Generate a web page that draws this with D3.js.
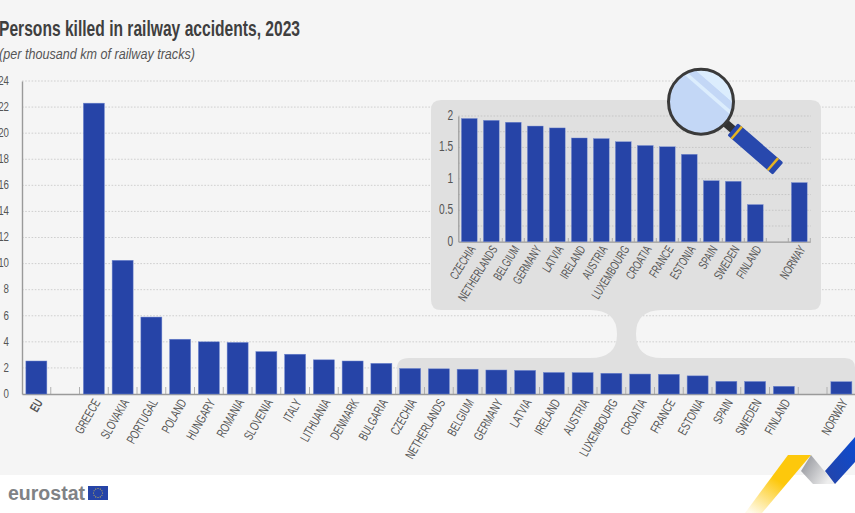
<!DOCTYPE html>
<html>
<head>
<meta charset="utf-8">
<script src="https://cdn.jsdelivr.net/npm/d3@7"></script>
<style>
html,body{margin:0;padding:0;background:#fff;overflow:hidden}
svg{display:block}
text{font-family:"Liberation Sans",sans-serif}
</style>
</head>
<body>
<svg id="c" width="855" height="513"></svg>
<script>
const titleText = "Persons killed in railway accidents, 2023";
const subtitleText = "(per thousand km of railway tracks)";
const categories = ["EU","gap1","GREECE","SLOVAKIA","PORTUGAL","POLAND","HUNGARY","ROMANIA","SLOVENIA","ITALY","LITHUANIA","DENMARK","BULGARIA","CZECHIA","NETHERLANDS","BELGIUM","GERMANY","LATVIA","IRELAND","AUSTRIA","LUXEMBOURG","CROATIA","FRANCE","ESTONIA","SPAIN","SWEDEN","FINLAND","gap2","NORWAY"];
const values = [2.53,null,22.3,10.25,5.9,4.2,4.0,3.95,3.25,3.05,2.62,2.53,2.35,1.96,1.93,1.90,1.84,1.81,1.65,1.64,1.59,1.53,1.51,1.39,0.97,0.96,0.59,null,0.94];
const mainTicks = [0,2,4,6,8,10,12,14,16,18,20,22,24];
const insetTicks = [0,0.5,1,1.5,2];
const insetGrid = [0.25,0.5,0.75,1,1.25,1.5,1.75,2];
const insetStart = "CZECHIA";

const BAR="#2644a7", EDGE="#6f86cf", INK="#555", AXIS="#9a9a9a", PANEL="#e0e0e0", BG="#f5f5f5";
const svg=d3.select("#c");
const defs=svg.append("defs");
const yg=defs.append("linearGradient").attr("id","yg").attr("x1",0.85).attr("y1",0).attr("x2",0.1).attr("y2",1);
yg.append("stop").attr("offset","45%").attr("stop-color","#fdc80c");
yg.append("stop").attr("offset","100%").attr("stop-color","#fdc80c").attr("stop-opacity",0.08);
const gg=defs.append("linearGradient").attr("id","gg").attr("x1",0).attr("y1",0).attr("x2",1).attr("y2",0.5);
gg.append("stop").attr("offset","0%").attr("stop-color","#8b8d94");
gg.append("stop").attr("offset","100%").attr("stop-color","#eeeeee");
const bg=defs.append("linearGradient").attr("id","bg").attr("x1",0).attr("y1",1).attr("x2",1).attr("y2",0);
bg.append("stop").attr("offset","0%").attr("stop-color","#2644a7");
bg.append("stop").attr("offset","100%").attr("stop-color","#0b4bd0");

svg.append("rect").attr("width",855).attr("height",513).attr("fill","#fff");
svg.append("rect").attr("width",855).attr("height",475).attr("fill",BG);

// titles (the reference uses a condensed face, so the installed sans is narrowed)
svg.append("text").attr("transform","translate(-1,36) scale(0.71,1)").attr("font-size",22).attr("font-weight",700).attr("fill","#3f3f3f").text(titleText);
svg.append("text").attr("transform","translate(-1,59) scale(0.84,1)").attr("font-size",15).attr("font-style","italic").attr("fill","#555").text(subtitleText);

// main scales
const x=d3.scaleBand().domain(categories).range([22,855.75]).paddingInner(0.27).paddingOuter(0.135);
const y=d3.scaleLinear().domain([0,24]).range([394,81]);

// main grid
svg.append("g").selectAll("line").data(mainTicks.filter(d=>d>0)).join("line")
  .attr("x1",22).attr("x2",855).attr("y1",d=>y(d)).attr("y2",d=>y(d))
  .attr("stroke","#cfcfcf").attr("stroke-width",1).attr("stroke-dasharray","1.6 1.6");

// connector panel shapes
const panel=svg.append("g").attr("fill",PANEL);
panel.append("path").attr("d","M397 394 L397 368 Q397 358 409 358 L590 358 Q617 358 617 334 Q617 310 590 310 L441 310 Q431 310 431 300 L431 110 Q431 100 441 100 L811 100 Q821 100 821 110 L821 300 Q821 310 811 310 L662 310 Q636 310 636 334 Q636 358 662 358 L845 358 Q855 358 855 368 L855 394 Z");

// main axes
const gy=svg.append("g").attr("transform","translate(22,0)").call(d3.axisLeft(y).tickValues(mainTicks).tickSize(0));
gy.select(".domain").attr("stroke",AXIS).attr("stroke-width",1.4);
gy.selectAll("text").attr("font-size",13.5).attr("fill",INK).attr("x",0).attr("transform","translate(-13,-1) scale(0.72,1)");

const slots=d3.scaleLinear().domain([0,categories.length]).range([22,855.75]);
svg.append("g").selectAll("line").data(d3.range(1,categories.length+1)).join("line")
  .attr("x1",d=>slots(d)).attr("x2",d=>slots(d)).attr("y1",387).attr("y2",394).attr("stroke","#b0b0b0").attr("stroke-width",1);

const gx=svg.append("g").attr("transform","translate(0,394)").call(d3.axisBottom(x).tickSize(0).tickFormat(d=>d.startsWith("gap")?"":d));
gx.select(".domain").attr("stroke",AXIS).attr("stroke-width",1.4);
gx.selectAll("text").attr("font-size",13).attr("fill",INK).attr("text-anchor","end")
  .attr("font-weight",d=>d==="EU"?700:400)
  .attr("transform","translate(3,6) rotate(-60) scale(0.69,1)").attr("dy","0.35em").attr("y",0).attr("x",0);

// main bars
svg.append("g").selectAll("rect").data(categories.map((c,i)=>({c,v:values[i]})).filter(d=>d.v!=null)).join("rect")
  .attr("x",d=>x(d.c)).attr("width",x.bandwidth()).attr("y",d=>y(d.v)).attr("height",d=>y(0)-y(d.v))
  .attr("fill",BAR).attr("stroke",EDGE).attr("stroke-width",0.5);

// inset
const insetCats=categories.slice(categories.indexOf(insetStart));
const insetVals=values.slice(categories.indexOf(insetStart));
const ix=d3.scaleBand().domain(insetCats).range([458.3,810.3]).paddingInner(0.286).paddingOuter(0.143);
const iy=d3.scaleLinear().domain([0,2]).range([241.7,116]);
svg.append("g").selectAll("line").data(insetGrid).join("line")
  .attr("x1",458.3).attr("x2",811).attr("y1",d=>iy(d)).attr("y2",d=>iy(d))
  .attr("stroke","#c6c6c6").attr("stroke-dasharray","1.6 1.6");
const igy=svg.append("g").attr("transform","translate(458.3,0)").call(d3.axisLeft(iy).tickValues(insetTicks).tickFormat(d=>String(d)).tickSize(0));
igy.select(".domain").attr("stroke",AXIS).attr("stroke-width",1.2);
igy.selectAll("text").attr("font-size",14).attr("fill",INK).attr("x",0).attr("transform","translate(-5,-1) scale(0.73,1)");
const islots=d3.scaleLinear().domain([0,insetCats.length]).range([458.3,810.3]);
svg.append("g").selectAll("line").data(d3.range(1,insetCats.length+1)).join("line")
  .attr("x1",d=>islots(d)).attr("x2",d=>islots(d)).attr("y1",238).attr("y2",241.7).attr("stroke","#aaa");
const igx=svg.append("g").attr("transform","translate(0,241.7)").call(d3.axisBottom(ix).tickSize(0).tickFormat(d=>d.startsWith("gap")?"":d));
igx.select(".domain").attr("stroke",AXIS).attr("stroke-width",1.2);
igx.selectAll("text").attr("font-size",12.5).attr("fill",INK).attr("text-anchor","end")
  .attr("transform","translate(3,5) rotate(-58) scale(0.675,1)").attr("dy","0.35em").attr("y",0).attr("x",0);
svg.append("g").selectAll("rect").data(insetCats.map((c,i)=>({c,v:insetVals[i]})).filter(d=>d.v!=null)).join("rect")
  .attr("x",d=>ix(d.c)).attr("width",ix.bandwidth()).attr("y",d=>iy(d.v)).attr("height",d=>iy(0)-iy(d.v))
  .attr("fill",BAR).attr("stroke",EDGE).attr("stroke-width",0.4);

// magnifier
const m=svg.append("g").attr("transform","translate(701,101.7)");
const lens=defs.append("clipPath").attr("id","lens"); lens.append("circle").attr("r",32);
const h=m.append("g").attr("transform","rotate(41)");
h.append("rect").attr("x",32).attr("y",-4).attr("width",14).attr("height",8).attr("fill","#333");
h.append("rect").attr("x",42).attr("y",-8).attr("width",60).attr("height",16).attr("rx",1.5).attr("fill","#2848ad");
h.append("rect").attr("x",46).attr("y",-8).attr("width",2.5).attr("height",16).attr("fill","#e6b422");
h.append("rect").attr("x",94).attr("y",-8).attr("width",2.5).attr("height",16).attr("fill","#e6b422");
m.append("circle").attr("r",32.5).attr("fill","#c3d7f6");
const st=m.append("g").attr("clip-path","url(#lens)").append("g").attr("transform","rotate(41)");
st.append("rect").attr("x",-40).attr("y",-34).attr("width",90).attr("height",14).attr("fill","#dcedfd");
st.append("rect").attr("x",-40).attr("y",-20).attr("width",90).attr("height",3).attr("fill","#c3d7f6");
st.append("rect").attr("x",-40).attr("y",-13).attr("width",90).attr("height",3.5).attr("fill","#dcedfd");
m.append("circle").attr("r",32.5).attr("fill","none").attr("stroke","#3a3a3a").attr("stroke-width",3);

// ribbons
svg.append("path").attr("d","M788 455 L811 455 L762 513 L745 513 Z").attr("fill","url(#yg)");
svg.append("path").attr("d","M811 455 L835 484 L813 484 L801 471 Z").attr("fill","url(#gg)");
svg.append("path").attr("d","M825 471 L855 437 L855 462 L835 484 Z").attr("fill","url(#bg)");

// logo
svg.append("text").attr("x",8).attr("y",500).attr("font-size",20).attr("font-weight",700).attr("fill","#808285")
  .attr("textLength",77).attr("lengthAdjust","spacingAndGlyphs").text("eurostat");
svg.append("rect").attr("x",88).attr("y",486).attr("width",20).attr("height",14).attr("fill","#2644a7");
svg.append("g").selectAll("circle").data(d3.range(12)).join("circle")
  .attr("cx",d=>98+4.5*Math.cos(d*Math.PI/6)).attr("cy",d=>493+4.5*Math.sin(d*Math.PI/6)).attr("r",0.55).attr("fill","#d9c24a");
</script>
</body>
</html>
